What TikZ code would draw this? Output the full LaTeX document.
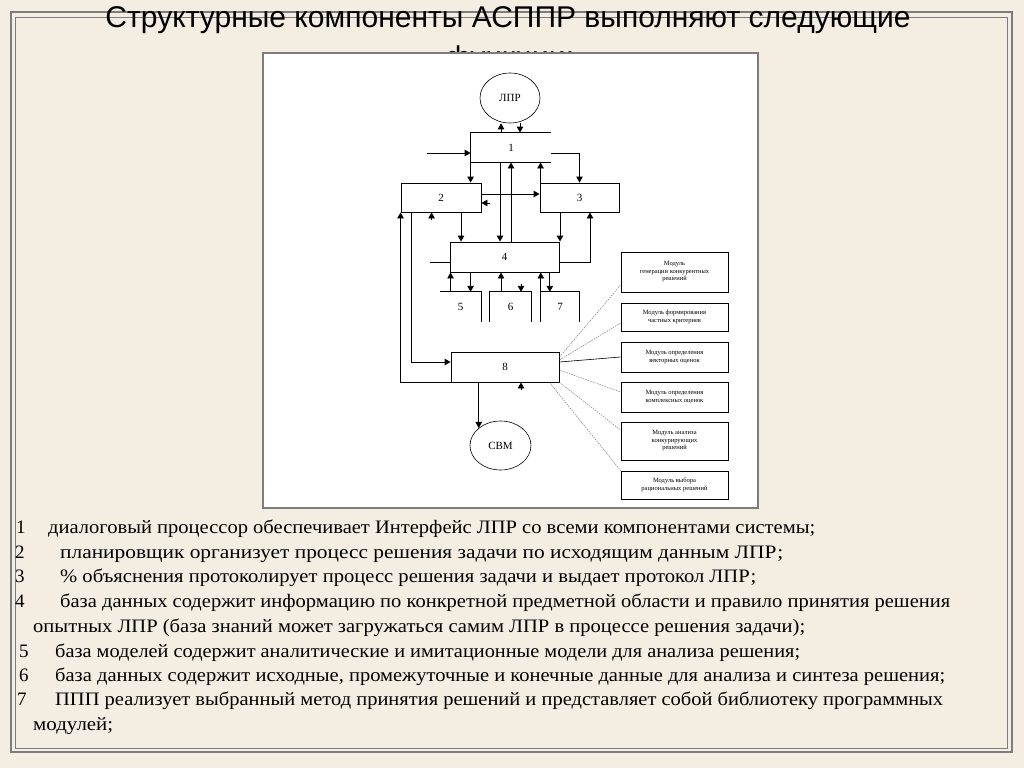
\documentclass[tikz,border=0pt]{standalone}
\usepackage{fontspec}
\setmainfont{Liberation Serif}
\newfontfamily\titlefont{Liberation Sans}
\usepackage{graphicx}
\usetikzlibrary{arrows.meta,shapes.geometric,positioning}

\definecolor{paper}{RGB}{244,238,226}
\definecolor{framegray}{RGB}{125,125,125}

\tikzset{
  blk/.style={draw, line width=0.9pt, minimum width=80pt, minimum height=29pt, inner sep=0pt, font=\fontsize{11}{11}\selectfont},
  modbox/.style={draw, line width=0.7pt, minimum width=107pt, inner sep=1pt, align=center, font=\fontsize{6.5}{7.5}\selectfont},
  oval/.style={draw, ellipse, line width=0.6pt, inner sep=0pt, minimum width=60pt, minimum height=50pt, font=\fontsize{11}{11}\selectfont},
  part/.style={inner sep=0pt, minimum height=30pt, font=\fontsize{11}{11}\selectfont},
  arr/.style={line width=0.9pt, -{Triangle[length=6pt,width=6.5pt]}},
  ln/.style={line width=0.9pt},
  dotln/.style={line width=0.5pt, gray, dash pattern=on 1.5pt off 1pt},
  txt/.style={anchor=base west, inner sep=0pt, font=\fontsize{19}{19}\selectfont},
}
\newcommand\fitw[2]{\resizebox{#1}{\height}{#2}}

\begin{document}
\begin{tikzpicture}[x=1pt,y=-1pt]
\fill[paper] (0,0) rectangle (1024,768);
\useasboundingbox (0,0) rectangle (1024,768);

% frame of the slide
\draw[framegray, line width=1.2pt] (11,12) rectangle (1012,752);
\draw[framegray, line width=0.8pt] (15,17) rectangle (1007,748);

% title
\node[font=\titlefont\fontsize{30}{36}\selectfont, inner sep=0pt] (title) at (508,20)
  {\fitw{805pt}{Структурные компоненты АСППР выполняют следующие}};
\node[font=\titlefont\fontsize{30}{36}\selectfont, inner sep=0pt] (title2) at (510,60) {функции:};

% picture panel
\draw[fill=white, draw=framegray, line width=1.5pt] (263,53) rectangle (758,508);

% blocks
\node[oval] (lpr) at (510,98) {ЛПР};
\node[blk, draw=none] (b1) at (511,147.5) {1};
\draw[ln] (b1.north east) -- (b1.north west) -- (b1.south west) -- (b1.south east);
\node[blk] (b2) at (441,197.5) {2};
\node[blk, minimum width=79pt] (b3) at (579.5,197.5) {3};
\node[blk, minimum width=109pt, minimum height=30pt] (b4) at (504.5,257) {4};
\node[part, minimum width=41pt] (n5) at (460.5,307) {5};
\node[part, minimum width=41pt] (n6) at (510.5,307) {6};
\node[part, minimum width=38pt] (n7) at (560,307) {7};
\node[blk, minimum width=108pt, minimum height=30pt] (b8) at (505,367) {8};
\node[oval, minimum width=61pt, minimum height=49pt] (svm) at (500.5,445.5) {СВМ};

% modules
\node[modbox, minimum height=40pt] (m1) at (674.5,272) {Модуль\\генерации конкурентных\\решений};
\node[modbox, minimum height=28pt] (m2) at (674.5,317) {Модуль формирования\\частных критериев};
\node[modbox, minimum height=30pt] (m3) at (674.5,357) {Модуль определения\\векторных оценок};
\node[modbox, minimum height=30pt] (m4) at (674.5,397) {Модуль определения\\комплексных оценок};
\node[modbox, minimum height=38pt] (m5) at (674.5,441) {Модуль анализа\\конкурирующих\\решений};
\node[modbox, minimum height=28pt] (m6) at (674.5,485) {Модуль выбора\\рациональных решений};

% parts 5, 6, 7
\draw[ln] (n5.north west) -- (n5.north east) -- (n5.south east);
\draw[ln] (n6.south west) -- (n6.north west) -- (n6.north east) -- (n6.south east);
\draw[ln] (n7.north west) -- (n7.north east) -- (n7.south east);

% connectors
\coordinate (in1) at (427,153);
\draw[arr] ([xshift=-10pt]b1.north) -- ([xshift=-10pt]b1.north |- lpr.south);
\draw[arr] ([xshift=9pt]b1.north |- lpr.south) -- ([xshift=9pt]b1.north);
\draw[arr] (in1) -- (in1 -| b1.west);
\draw[arr] (b1.south west) -- (b1.south west |- b2.north);
\draw[arr] ([yshift=-5.5pt]b1.east) -| (b3.north);
\draw[arr] ([yshift=3.5pt]b2.east) -- ([yshift=3.5pt]b3.west);
\draw[arr] ([xshift=9pt,yshift=-5.5pt]b2.east) -- ([yshift=-5.5pt]b2.east);
\draw[arr] ([xshift=-11pt]b1.south) -- ([xshift=-11pt]b1.south |- b4.north);
\draw[arr] (b1.south |- b4.north) -- (b1.south);
\draw[arr] ([xshift=1pt]b3.north west) -- ([xshift=1pt]b3.north west |- b1.south);
\draw[arr] (b8.south west) -| (b2.south west);
\draw[arr] ([xshift=11pt]b2.south west) |- ([yshift=5pt]b8.west);
\draw[arr] ([xshift=31pt,yshift=-8pt]b2.south west) -- ([xshift=31pt]b2.south west);
\draw[arr] ([xshift=20pt]b2.south) -- ([xshift=20pt]b2.south |- b4.north);
\draw[arr] ([xshift=-19.5pt]b3.south) -- ([xshift=-19.5pt]b3.south |- b4.north);
\draw[arr] ([yshift=-5pt]b4.east) -| ([xshift=10.5pt]b3.south);
\draw[ln] ([xshift=-20pt,yshift=-5pt]b4.west) -- ([yshift=-5pt]b4.west);
\draw[arr] ([xshift=1pt]b4.south west |- n5.north) -- ([xshift=1pt]b4.south west);
\draw[arr] ([xshift=21pt]b4.south west) -- ([xshift=21pt]b4.south west |- n5.north);
\draw[arr] ([xshift=-9.5pt]n6.north) -- ([xshift=-9.5pt]n6.north |- b4.south);
\draw[arr] ([xshift=10.5pt,yshift=8pt]n6.north) -- ([xshift=10.5pt]n6.north);
\draw[arr] (n7.south west) -- (n7.south west |- b4.south);
\draw[arr] ([xshift=9pt]n7.north west |- b4.south) -- ([xshift=9pt]n7.north west);
\draw[arr] (b8.south -| svm.north west) -- (svm.north west);
\draw[arr] ([xshift=16pt,yshift=-8pt]b8.south) -- ([xshift=16pt]b8.south);

% links to the modules
\draw[dotln] ([yshift=10pt]b8.east) -- ([yshift=-13pt]m1.west);
\draw[dotln] ([yshift=7pt]b8.east) -- ([yshift=-6pt]m2.west);
\draw[ln, line width=0.6pt] ([yshift=5pt]b8.east) -- (m3.west);
\draw[dotln] ([yshift=-3pt]b8.east) -- ([yshift=5pt]m4.west);
\draw[dotln] (b8.south east) -- ([yshift=11pt]m5.west);
\draw[dotln] ([xshift=-10pt]b8.south east) -- (m6.north west);

% list below the picture
\node[txt] (k1) at (16,533) {1};
\node[txt] (t1) at (48,533) {\fitw{767pt}{диалоговый процессор обеспечивает Интерфейс ЛПР со всеми компонентами системы;}};
\node[txt] (k2) at (15,558) {2};
\node[txt] (t2) at (60,558) {\fitw{723pt}{планировщик организует процесс решения задачи по исходящим данным ЛПР;}};
\node[txt] (k3) at (15,582) {3};
\node[txt] (t3) at (60,582) {\fitw{696pt}{\% объяснения протоколирует процесс решения задачи и выдает протокол ЛПР;}};
\node[txt] (k4) at (15,607) {4};
\node[txt] (t4) at (60,607) {\fitw{890pt}{база данных содержит информацию по конкретной предметной области и правило принятия решения}};
\node[txt] (t4b) at (33,632) {\fitw{772pt}{опытных ЛПР (база знаний может загружаться самим ЛПР в процессе решения задачи);}};
\node[txt] (k5) at (19,657) {5};
\node[txt] (t5) at (55,657) {\fitw{745pt}{база моделей содержит аналитические и имитационные модели для анализа решения;}};
\node[txt] (k6) at (19,681) {6};
\node[txt] (t6) at (55,681) {\fitw{890pt}{база данных содержит исходные, промежуточные и конечные данные для анализа и синтеза решения;}};
\node[txt] (k7) at (17,705) {7};
\node[txt] (t7) at (55,705) {\fitw{888pt}{ППП реализует выбранный метод принятия решений и представляет собой библиотеку программных}};
\node[txt] (t7b) at (33,730) {\fitw{80pt}{модулей;}};
\end{tikzpicture}
\end{document}
